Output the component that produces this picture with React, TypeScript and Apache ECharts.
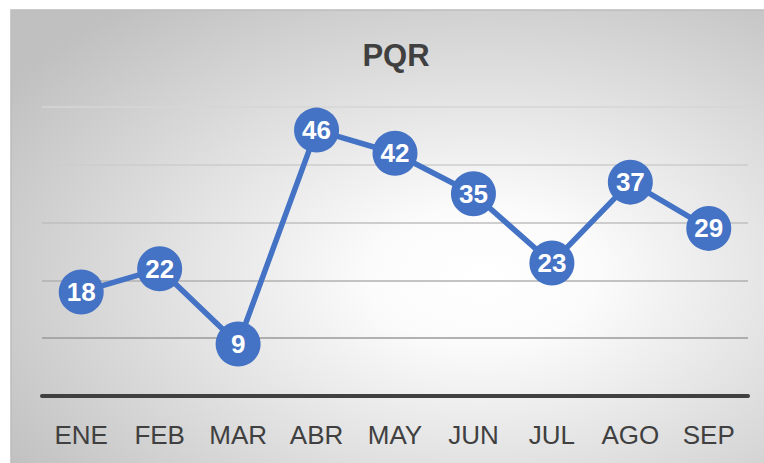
import React, { useEffect, useRef } from "react";
import * as echarts from "echarts";

const titleText = "PQR";
const categories = ["ENE", "FEB", "MAR", "ABR", "MAY", "JUN", "JUL", "AGO", "SEP"];
const values = [18, 22, 9, 46, 42, 35, 23, 37, 29];
const yMin = 0;
const yMax = 50;
const yInterval = 10;
const gridColors = ["#9a9a9a", "#9a9a9a", "#b0b0b0", "#bfbfbf", "#cccccc", "#d6d6d6"];

export default function App() {
  const ref = useRef<HTMLDivElement>(null);
  useEffect(() => {
    if (!ref.current) return;
    const chart = echarts.init(ref.current, null, { renderer: "svg" });
    chart.setOption({
      animation: false,
      backgroundColor: "#ffffff",
      graphic: [
        {
          type: "rect",
          z: -10,
          silent: true,
          shape: { x: 11, y: 10, width: 760, height: 460 },
          style: {
            fill: {
              type: "radial",
              x: 0.62,
              y: 0.58,
              r: 0.75,
              colorStops: [
                { offset: 0, color: "#ffffff" },
                { offset: 0.2, color: "#fbfbfb" },
                { offset: 1, color: "#c0c0c0" },
              ],
            },
            stroke: "#bcbcbc",
            lineWidth: 1.5,
          },
        },
      ],
      title: {
        text: titleText,
        left: 391,
        top: 35,
        textAlign: "center",
        textStyle: {
          fontFamily: "Liberation Sans",
          fontWeight: "bold",
          fontSize: 31,
          color: "#404040",
        },
      },
      grid: { left: 42, right: 16, top: 107, bottom: 67 },
      xAxis: {
        type: "category",
        data: categories,
        boundaryGap: true,
        axisLine: { show: true, lineStyle: { color: "#404040", width: 4 } },
        axisTick: { show: false },
        axisLabel: {
          margin: 26,
          fontFamily: "Liberation Sans",
          fontSize: 26,
          color: "#404040",
        },
        splitLine: { show: false },
      },
      yAxis: {
        type: "value",
        min: yMin,
        max: yMax,
        interval: yInterval,
        axisLine: { show: false },
        axisTick: { show: false },
        axisLabel: { show: false },
        splitLine: { show: true, lineStyle: { color: gridColors, width: 1.5 } },
      },
      series: [
        {
          type: "line",
          data: values,
          z: 5,
          symbol: "circle",
          symbolSize: 45,
          lineStyle: { color: "#4472c4", width: 5.5 },
          itemStyle: { color: "#4472c4" },
          label: {
            show: true,
            position: "inside",
            color: "#ffffff",
            fontFamily: "Liberation Sans",
            fontWeight: "bold",
            fontSize: 26,
          },
        },
      ],
    });
    return () => chart.dispose();
  }, []);
  return (
    <div
      ref={ref}
      style={{ position: "fixed", left: 0, top: 0, width: 764, height: 463 }}
    />
  );
}
